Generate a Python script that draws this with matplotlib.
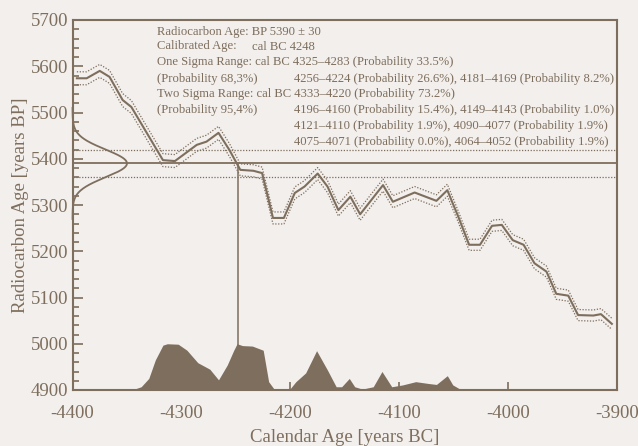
import numpy as np
import matplotlib
matplotlib.use("Agg")
import matplotlib.pyplot as plt
from matplotlib.ticker import MultipleLocator

# ---------------- data ----------------
c14_age = 5390
c14_err = 30
cal_age = -4248

curve_years = [-4396, -4387, -4375, -4366, -4354, -4346, -4317, -4306, -4286, -4277,
               -4266, -4256, -4246, -4234, -4226, -4216, -4206, -4196, -4187, -4175,
               -4166, -4156, -4145, -4136, -4115, -4106, -4086, -4066, -4056, -4046,
               -4036, -4026, -4015, -4006, -3996, -3986, -3976, -3965, -3956, -3945,
               -3936, -3922, -3915, -3905]
curve_bp = [5574, 5574, 5590, 5577, 5527, 5512, 5397, 5395, 5430, 5437,
            5456, 5419, 5376, 5374, 5369, 5272, 5272, 5326, 5340, 5368,
            5340, 5289, 5318, 5280, 5343, 5307, 5327, 5309, 5332, 5275,
            5214, 5214, 5255, 5257, 5224, 5214, 5174, 5156, 5108, 5104,
            5062, 5061, 5064, 5043]
curve_sigma = [14, 14, 14, 14, 14, 14, 14, 14, 14, 14,
               14, 14, 13, 13, 13, 13, 13, 13, 13, 13,
               13, 13, 13, 13, 13, 13, 13, 13, 13, 12,
               12, 12, 12, 12, 12, 12, 12, 12, 12, 12,
               12, 12, 12, 12]

prob_years = [-4350, -4344, -4337, -4330, -4324, -4317, -4313, -4303, -4295, -4285,
              -4274, -4266, -4258, -4252, -4249, -4244, -4235, -4225, -4220, -4215,
              -4200, -4195, -4186, -4176, -4166, -4158, -4153, -4146, -4141, -4134,
              -4124, -4116, -4107, -4097, -4085, -4073, -4066, -4056, -4051, -4044,
              -4039]
prob_rel = [0.0, 0.014, 0.07, 0.25, 0.65, 0.97, 1.0, 0.99, 0.86, 0.59,
            0.45, 0.22, 0.54, 0.86, 1.0, 0.96, 0.95, 0.86, 0.18, 0.02,
            0.035, 0.18, 0.37, 0.85, 0.43, 0.07, 0.07, 0.25, 0.07, 0.02,
            0.07, 0.40, 0.07, 0.11, 0.18, 0.14, 0.12, 0.31, 0.11, 0.014,
            0.0]

xticks = [-4400, -4300, -4200, -4100, -4000, -3900]
yticks = [4900, 5000, 5100, 5200, 5300, 5400, 5500, 5600, 5700]

info_left = ["Radiocarbon Age: BP 5390 \u00b1 30",
             "Calibrated Age:",
             "One Sigma Range: cal BC 4325\u20134283 (Probability 33.5%)",
             "(Probability 68,3%)",
             "Two Sigma Range: cal BC 4333\u20134220 (Probability 73.2%)",
             "(Probability 95,4%)",
             "",
             ""]
info_right = ["",
              "",
              "",
              "4256\u20134224 (Probability 26.6%), 4181\u20134169 (Probability 8.2%)",
              "",
              "4196\u20134160 (Probability 15.4%), 4149\u20134143 (Probability 1.0%)",
              "4121\u20134110 (Probability 1.9%), 4090\u20134077 (Probability 1.9%)",
              "4075\u20134071 (Probability 0.0%), 4064\u20134052 (Probability 1.9%)"]
cal_text = "cal BC 4248"

# ---------------- style ----------------
BG = "#F2EFEC"
BROWN = "#7E6E5D"
plt.rcParams["font.family"] = ["Liberation Serif", "DejaVu Serif"]
plt.rcParams["axes.unicode_minus"] = False

W, H = 638, 446
fig = plt.figure(figsize=(W / 100, H / 100), dpi=100, facecolor=BG)
x0, x1, ytop, ybot = 72.5, 617.3, 20, 390
ax = fig.add_axes([x0 / W, 1 - ybot / H, (x1 - x0) / W, (ybot - ytop) / H])
ax.set_facecolor(BG)

ymin, ymax = yticks[0], yticks[-1]
ax.set_xlim(xticks[0], xticks[-1])
ax.set_ylim(ymin, ymax)

DOT = (0, (1, 1.3))

# calibration curve
cy = np.array(curve_bp, float)
cs = np.array(curve_sigma, float)
ax.plot(curve_years, cy, color=BROWN, lw=1.5, zorder=3)
ax.plot(curve_years, cy + cs, color=BROWN, lw=0.9, ls=DOT, zorder=3)
ax.plot(curve_years, cy - cs, color=BROWN, lw=0.9, ls=DOT, zorder=3)

# measured age lines
ax.axhline(c14_age, color=BROWN, lw=1.3, zorder=2)
ax.axhline(c14_age + c14_err, color=BROWN, lw=0.9, ls=DOT, zorder=2)
ax.axhline(c14_age - c14_err, color=BROWN, lw=0.9, ls=DOT, zorder=2)

# gaussian of measured age on left axis
gy = np.linspace(c14_age - 4 * c14_err, c14_age + 4 * c14_err, 300)
gx = xticks[0] + 50 * np.exp(-0.5 * ((gy - c14_age) / c14_err) ** 2)
ax.plot(gx, gy, color=BROWN, lw=1.3, zorder=3, clip_on=False)

# calibrated probability distribution
ax.fill_between(prob_years, ymin, ymin + 100 * np.array(prob_rel), color=BROWN,
                lw=0, zorder=2)

# calibrated age line
ax.plot([cal_age, cal_age], [ymin, c14_age], color=BROWN, lw=1.1, zorder=3)

# axes styling
for sp in ax.spines.values():
    sp.set_color(BROWN)
    sp.set_linewidth(1.5)
ax.set_xticks(xticks)
ax.set_xticklabels([str(v) for v in xticks])
ax.set_yticks(yticks)
ax.set_yticklabels([str(v) for v in yticks])
ax.yaxis.set_minor_locator(MultipleLocator(20))
ax.tick_params(axis="both", which="both", direction="in", colors=BROWN,
               labelsize=13.5, width=1.2)
ax.tick_params(axis="y", which="major", length=7, pad=3)
ax.tick_params(axis="y", which="minor", length=4)
ax.tick_params(axis="x", which="major", length=6, pad=11)
ax.set_xlabel("Calendar Age [years BC]", color=BROWN, fontsize=13.5, labelpad=5)
ax.set_ylabel("Radiocarbon Age [years BP]", color=BROWN, fontsize=13.5, labelpad=1)

# info text
FS = 9.05
line_y = [31.7, 46.5, 62.5, 79, 94.5, 110.5, 126.2, 141.8]
for yy, lt, rt in zip(line_y, info_left, info_right):
    if lt:
        fig.text(157.3 / W, 1 - yy / H, lt, color=BROWN, fontsize=FS,
                 va="center", ha="left")
    if rt:
        fig.text(294.3 / W, 1 - yy / H, rt, color=BROWN, fontsize=FS,
                 va="center", ha="left")
fig.text(251.7 / W, 1 - line_y[1] / H, cal_text, color=BROWN, fontsize=FS,
         va="center", ha="left")

fig.savefig("out.png", dpi=100, facecolor=BG)
